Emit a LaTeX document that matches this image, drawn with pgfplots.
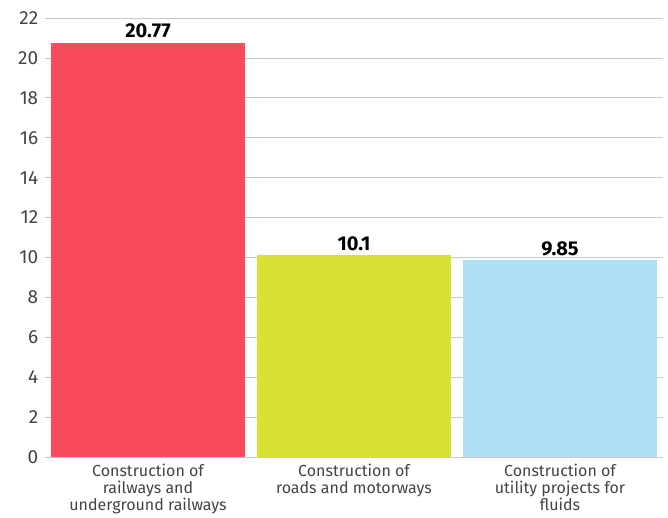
\documentclass[border=0pt]{standalone}
\usepackage{pgfplots}
\pgfplotsset{compat=1.18}
\usetikzlibrary{calc}
\usepackage{fontspec}
\setmainfont{Fira Sans}

\definecolor{barred}{HTML}{F94B5B}
\definecolor{baryellow}{HTML}{D8E032}
\definecolor{barblue}{HTML}{ACE0F2}
\definecolor{gridgray}{HTML}{C8C8C8}
\definecolor{labelgray}{HTML}{444444}

\begin{document}
\begin{tikzpicture}[x=1pt,y=1pt]
\begin{axis}[
    name=main,
    at={(0,0)}, anchor=origin,
    scale only axis,
    width=618pt, height=439pt,
    xmin=-0.5, xmax=2.5,
    ymin=0, ymax=22,
    ytick={0,2,...,22},
    xtick={0,1,2},
    xticklabels={Construction of\\railways and\\underground railways,
                 Construction of\\roads and motorways,
                 Construction of\\utility projects for\\fluids},
    extra x ticks={-0.5,0.5,1.5,2.5},
    extra x tick labels={},
    extra x tick style={major tick length=5pt, major tick style={draw=gridgray, line width=0.8pt}, grid=none},
    tick align=outside,
    x tick label style={align=center, font=\fontsize{16}{17}\selectfont, text=labelgray, inner sep=1pt, yshift=-2pt},
    y tick label style={font=\fontsize{19}{19}\selectfont, text=labelgray},
    /pgf/number format/assume math mode=true,
    major x tick style={draw=none},
    major y tick style={draw=none},
    ymajorgrids,
    grid style={gridgray, line width=0.8pt},
    axis x line*=bottom,
    axis y line*=left,
    y axis line style={draw=none},
    x axis line style={gridgray, line width=0.8pt, -},
    yticklabel style={xshift=1pt},
    bar width=0.94,
    nodes near coords,
    point meta=explicit symbolic,
    every node near coord/.append style={font=\fontsize{20}{20}\bfseries\selectfont, text=black, inner sep=2pt, yshift=2pt},
    clip=false,
]
\addplot[ybar, fill=barred, draw=none] coordinates {(0,20.77) [20.77]};
\addplot[ybar, fill=baryellow, draw=none] coordinates {(1,10.1) [10.1]};
\addplot[ybar, fill=barblue, draw=none] coordinates {(2,9.85) [9.85]};
\end{axis}
\pgfresetboundingbox
\path ($(main.south west)+(-45pt,-61pt)$) rectangle ($(main.north east)+(5pt,18pt)$);
\end{tikzpicture}
\end{document}
